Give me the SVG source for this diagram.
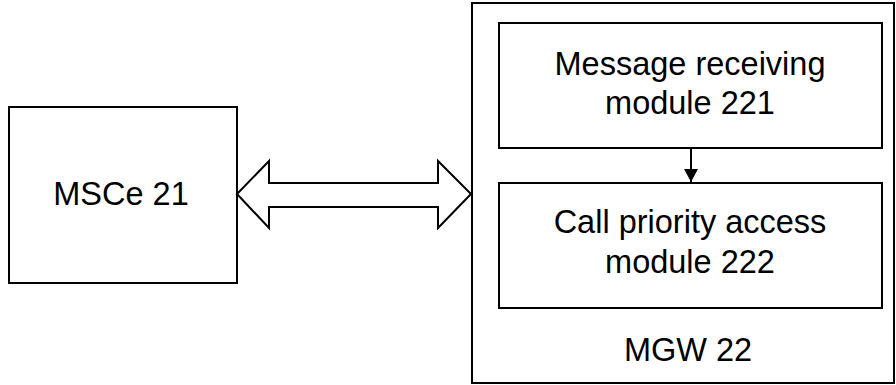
<svg xmlns="http://www.w3.org/2000/svg" width="896" height="385" viewBox="0 0 896 385">
  <defs>
    <style>
      .box { fill: #ffffff; stroke: #000000; stroke-width: 2; }
      .lbl { font-family: "Liberation Sans", Arial, sans-serif; font-size: 32.5px; fill: #000000; text-anchor: middle; }
      .wire { fill: none; stroke: #000000; stroke-width: 2; }
    </style>
    <marker id="arrowhead" markerWidth="14" markerHeight="15" refX="13" refY="7" orient="auto" markerUnits="userSpaceOnUse">
      <path d="M0,0 L13,7 L0,14 Z" fill="#000000"/>
    </marker>
  </defs>
  <rect width="896" height="385" fill="#ffffff"/>

  <g id="mgw22">
    <rect class="box" x="472" y="3" width="422" height="380"/>
    <text class="lbl" x="688" y="361">MGW 22</text>
  </g>

  <g id="msce21">
    <rect class="box" x="9" y="107" width="228" height="176"/>
    <text class="lbl" x="121" y="205">MSCe 21</text>
  </g>

  <g id="module221">
    <rect class="box" x="499" y="23" width="383" height="125"/>
    <text class="lbl" x="690" y="75">Message receiving</text>
    <text class="lbl" x="690" y="114">module 221</text>
  </g>

  <g id="module222">
    <rect class="box" x="499" y="183" width="383" height="125"/>
    <text class="lbl" x="690" y="233">Call priority access</text>
    <text class="lbl" x="690" y="273">module 222</text>
  </g>

  <g id="connectors">
    <!-- hollow double-headed arrow between MSCe and MGW -->
    <path class="wire" fill="#ffffff" d="M237,194 L269,161 L269,183 L438,183 L438,161 L471,194 L438,228 L438,207 L269,207 L269,228 Z"/>
    <!-- internal flow from receiving to priority access -->
    <line class="wire" x1="691" y1="148" x2="691" y2="182" marker-end="url(#arrowhead)"/>
  </g>
</svg>
